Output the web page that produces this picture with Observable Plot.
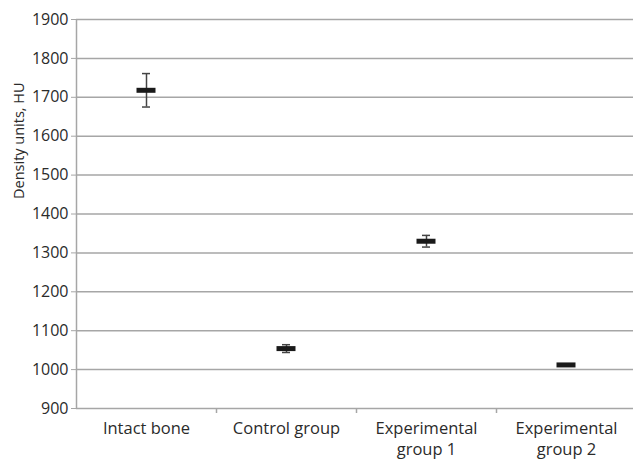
<!DOCTYPE html>
<html>
<head>
<meta charset="utf-8">
<script src="https://cdn.jsdelivr.net/npm/d3@7"></script>
<script src="https://cdn.jsdelivr.net/npm/@observablehq/plot@0.6"></script>
<style>
  html, body { margin: 0; padding: 0; background: #fff; }
  #chart svg { display: block; }
</style>
</head>
<body>
<div id="chart"></div>
<script>
const categories = ["Intact bone", "Control group", "Experimental\ngroup 1", "Experimental\ngroup 2"];
const means = [1718, 1054, 1330, 1012];
const errors = [43, 10, 15, 3];
const yTicks = [900, 1000, 1100, 1200, 1300, 1400, 1500, 1600, 1700, 1800, 1900];
const boundaries = [0, 1, 2, 3, 4];
const yLabel = "Density units, HU";

const data = categories.map((c, i) => ({i, name: c, mean: means[i], err: errors[i]}));

const font = "'Open Sans', sans-serif";
const textColor = "#2b2b2b";
const gridColor = "#a6a6a6";

const chart = Plot.plot({
  width: 633,
  height: 461,
  marginLeft: 76,
  marginRight: 0,
  marginTop: 19,
  marginBottom: 53,
  style: {fontFamily: font, fontSize: "16px", color: textColor, background: "#fff"},
  x: {type: "linear", domain: [0, 4], range: [76, 636], axis: null},
  y: {type: "linear", domain: [900, 1900], axis: null},
  marks: [
    Plot.ruleY(yTicks, {stroke: gridColor, strokeWidth: 1.5}),
    Plot.ruleX([0], {stroke: gridColor, strokeWidth: 1.5}),
    Plot.axisY({ticks: yTicks, tickSize: 5, tickPadding: 3, stroke: gridColor, fill: textColor, fontSize: 16, label: null, tickFormat: d => String(d)}),
    Plot.ruleX(boundaries.slice(1), {y1: 900, y2: 900, stroke: gridColor, strokeWidth: 1.5, insetBottom: -5}),
    Plot.text(data, {x: d => d.i + 0.5, y: 900, text: "name", lineAnchor: "top", dy: 10, lineHeight: 1.3, fill: textColor, fontSize: 16.5}),
    Plot.text([yLabel], {frameAnchor: "left", rotate: -90, dx: -57.5, dy: -15, fill: textColor, fontSize: 14.5}),
    // error bars
    Plot.ruleX(data, {x: d => d.i + 0.5, y1: d => d.mean - d.err, y2: d => d.mean + d.err, stroke: "#444", strokeWidth: 1.5}),
    Plot.ruleY(data, {y: d => d.mean + d.err, x1: "i", x2: d => d.i + 1, insetLeft: 66, insetRight: 66, stroke: "#444", strokeWidth: 1.5}),
    Plot.ruleY(data, {y: d => d.mean - d.err, x1: "i", x2: d => d.i + 1, insetLeft: 66, insetRight: 66, stroke: "#444", strokeWidth: 1.5}),
    // mean markers
    Plot.ruleY(data, {y: "mean", x1: "i", x2: d => d.i + 1, insetLeft: 60.5, insetRight: 60.5, stroke: "#1a1a1a", strokeWidth: 5})
  ]
});
document.getElementById("chart").appendChild(chart);
</script>
</body>
</html>
